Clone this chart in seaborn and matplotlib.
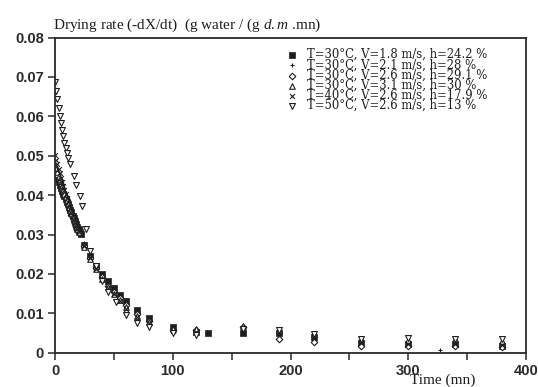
import matplotlib
matplotlib.use("Agg")
import matplotlib.pyplot as plt
import seaborn as sns
import pandas as pd

# Drying-rate measurements (g water / g dry matter / min) versus time (min)
t_a = [0, 1, 2, 3, 4, 5, 6, 7, 8, 9, 10, 11, 12, 13, 14, 15, 16, 17, 18, 19, 20, 21, 22,
       25, 30, 35, 40, 45, 50, 55, 60, 70, 80, 100, 120, 130, 160, 190, 220, 260, 300, 340, 380]
rate_a = [0.0451, 0.0446, 0.0440, 0.0432, 0.0425, 0.0419, 0.0411, 0.0404, 0.0398, 0.0390,
          0.0383, 0.0377, 0.0369, 0.0362, 0.0356, 0.0348, 0.0341, 0.0335, 0.0327, 0.0320,
          0.0314, 0.0307, 0.0301, 0.0273, 0.0246, 0.0221, 0.0199, 0.0181, 0.0165, 0.0147,
          0.0131, 0.0108, 0.0089, 0.0066, 0.0053, 0.0051, 0.0049, 0.0049, 0.0041, 0.0025,
          0.0022, 0.0022, 0.0018]

t_b = [0, 1, 2, 3, 4, 5, 6, 7, 8, 9, 10, 11, 12, 13, 14, 15, 16, 17, 18, 19, 20,
       25, 30, 35, 40, 45, 50, 55, 60, 70, 80, 100, 120, 160, 190, 220, 260, 300, 327, 340, 380]
rate_b = [0.0458, 0.0452, 0.0444, 0.0437, 0.0430, 0.0423, 0.0415, 0.0408, 0.0401, 0.0394,
          0.0386, 0.0379, 0.0372, 0.0364, 0.0357, 0.0350, 0.0343, 0.0336, 0.0329, 0.0322,
          0.0315, 0.0278, 0.0249, 0.0222, 0.0197, 0.0178, 0.0161, 0.0144, 0.0126, 0.0104,
          0.0086, 0.0062, 0.0055, 0.0052, 0.0053, 0.0044, 0.0028, 0.0025, 0.0007, 0.0024,
          0.0020]

t_c = [0, 1, 2, 3, 4, 5, 6, 7, 8, 9, 10, 11, 12, 13, 14, 15, 16, 17, 18, 19, 20,
       25, 30, 35, 40, 45, 50, 55, 60, 70, 80, 100, 120, 160, 190, 220, 260, 300, 340, 380]
rate_c = [0.0466, 0.0458, 0.0450, 0.0441, 0.0433, 0.0425, 0.0416, 0.0408, 0.0400, 0.0392,
          0.0383, 0.0375, 0.0367, 0.0359, 0.0350, 0.0342, 0.0334, 0.0327, 0.0319, 0.0312,
          0.0305, 0.0270, 0.0240, 0.0215, 0.0192, 0.0170, 0.0155, 0.0139, 0.0120, 0.0098,
          0.0080, 0.0058, 0.0058, 0.0066, 0.0036, 0.0028, 0.0018, 0.0016, 0.0017, 0.0014]

t_d = t_c
rate_d = [0.0476, 0.0467, 0.0458, 0.0449, 0.0440, 0.0431, 0.0422, 0.0413, 0.0404, 0.0396,
          0.0387, 0.0379, 0.0370, 0.0362, 0.0354, 0.0346, 0.0338, 0.0330, 0.0322, 0.0314,
          0.0307, 0.0268, 0.0238, 0.0212, 0.0188, 0.0166, 0.0150, 0.0134, 0.0116, 0.0094,
          0.0078, 0.0060, 0.0060, 0.0068, 0.0058, 0.0047, 0.0034, 0.0033, 0.0034, 0.0030]

t_e = t_c
rate_e = [0.0502, 0.0490, 0.0478, 0.0466, 0.0455, 0.0444, 0.0433, 0.0422, 0.0412, 0.0402,
          0.0392, 0.0382, 0.0373, 0.0364, 0.0355, 0.0346, 0.0338, 0.0330, 0.0322, 0.0314,
          0.0306, 0.0272, 0.0240, 0.0212, 0.0188, 0.0165, 0.0148, 0.0130, 0.0110, 0.0090,
          0.0075, 0.0055, 0.0052, 0.0056, 0.0052, 0.0040, 0.0025, 0.0023, 0.0022, 0.0020]

t_f = [0, 1, 2, 3, 4, 5, 6, 7, 8, 9, 10, 11, 13, 16, 18, 21, 23, 26, 30, 35, 40, 45, 52,
       60, 70, 80, 100, 120, 160, 190, 220, 260, 300, 340, 380]
rate_f = [0.0688, 0.0665, 0.0643, 0.0622, 0.0602, 0.0584, 0.0566, 0.0549, 0.0533, 0.0519,
          0.0506, 0.0494, 0.0478, 0.0448, 0.0425, 0.0397, 0.0372, 0.0313, 0.0259, 0.0220,
          0.0183, 0.0154, 0.0128, 0.0095, 0.0076, 0.0066, 0.0050, 0.0046, 0.0060, 0.0058,
          0.0048, 0.0036, 0.0037, 0.0036, 0.0035]

labels = ["T=30°C, V=1.8 m/s, h=24.2 %",
          "T=30°C, V=2.1 m/s, h=28 %",
          "T=30°C, V=2.6 m/s, h=29.1 %",
          "T=30°C, V=3.1 m/s, h=30 %",
          "T=40°C, V=2.6 m/s, h=17.9 %",
          "T=50°C, V=2.6 m/s, h=13 %"]
times = [t_a, t_b, t_c, t_d, t_e, t_f]
rates = [rate_a, rate_b, rate_c, rate_d, rate_e, rate_f]

x_ticks = [0, 100, 200, 300, 400]
y_ticks = [0, 0.01, 0.02, 0.03, 0.04, 0.05, 0.06, 0.07, 0.08]
y_tick_labels = ["0", "0.01", "0.02", "0.03", "0.04", "0.05", "0.06", "0.07", "0.08"]

sns.set_style("white")
plt.rcParams["mathtext.fontset"] = "custom"
plt.rcParams["mathtext.rm"] = "Liberation Serif"
plt.rcParams["mathtext.it"] = "Liberation Serif:italic"

ink = "#1e1e1e"
styles = [
    dict(marker="s", s=20, color=ink, edgecolor=ink, linewidth=0.5),
    dict(marker="+", s=10, color=ink, linewidth=0.8),
    dict(marker="D", s=11, facecolor="white", edgecolor=ink, linewidth=0.8),
    dict(marker="^", s=16, facecolor="white", edgecolor=ink, linewidth=0.8),
    dict(marker="x", s=12, color=ink, linewidth=0.8),
    dict(marker="v", s=18, facecolor="white", edgecolor=ink, linewidth=0.8),
]

fig = plt.figure(figsize=(5.38, 3.87), dpi=100)
ax = fig.add_axes([55 / 538, 1 - 352.7 / 387, 471 / 538, 315.2 / 387])

for t, r, lab, st in zip(times, rates, labels, styles):
    df = pd.DataFrame({"time": t, "rate": r})
    sns.scatterplot(data=df, x="time", y="rate", ax=ax, label=lab, legend=True, **st)

ax.set_xlim(0, 400)
ax.set_ylim(0, 0.08)
ax.set_xticks(x_ticks)
ax.set_xticks([50, 150, 250, 350], minor=True)
ax.set_yticks(y_ticks)
ax.set_yticklabels(y_tick_labels)
ax.set_xlabel("")
ax.set_ylabel("")

for side in ["left", "bottom", "right", "top"]:
    ax.spines[side].set_color("#2a2a2a")
    ax.spines[side].set_linewidth(1.3)

ax.tick_params(axis="both", which="both", direction="out", length=5, width=1.1,
               color="#2a2a2a", bottom=True, left=True, top=False, right=False)
ax.tick_params(axis="both", which="major", pad=3)
for lbl in ax.get_xticklabels() + ax.get_yticklabels():
    lbl.set_fontfamily("Liberation Sans")
    lbl.set_fontweight("bold")
    lbl.set_fontsize(10.5)
    lbl.set_color("#2a2a2a")

fig.text(53 / 538, 1 - 29 / 387,
         r"Drying rate (-dX/dt)  (g water / (g $\mathit{d.m}$ .mn)",
         fontfamily="Liberation Serif", fontsize=11, color=ink, ha="left", va="baseline")
fig.text(443 / 538, 1 - 374 / 387, "Time (mn)", fontfamily="Liberation Serif",
         fontsize=11, color=ink, ha="center", va="top")

leg = ax.legend(loc="upper left", bbox_to_anchor=(0.4926, 0.966), frameon=False,
                prop={"family": "DejaVu Serif", "size": 8.4}, labelspacing=-0.24,
                handlelength=0.8, handletextpad=0.9, borderpad=0, borderaxespad=0,
                markerscale=1.0)
for txt in leg.get_texts():
    txt.set_color(ink)

fig.savefig("out.png", dpi=100)
